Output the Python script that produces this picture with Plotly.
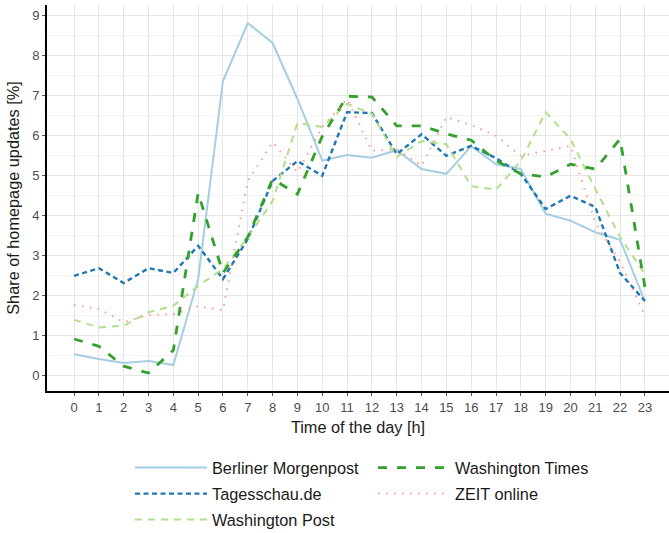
import plotly.graph_objects as go

hours = list(range(24))
hour_labels = [str(h) for h in hours]

berliner = [0.52, 0.40, 0.30, 0.35, 0.25, 2.40, 7.35, 8.80, 8.30, 6.90, 5.36, 5.50, 5.43, 5.62, 5.15, 5.03,
            5.72, 5.27, 5.15, 4.03, 3.86, 3.57, 3.38, 1.84]
tagesschau = [2.48, 2.67, 2.30, 2.67, 2.55, 3.23, 2.40, 3.40, 4.85, 5.35, 4.98, 6.57, 6.55, 5.52, 6.02, 5.48,
              5.73, 5.42, 5.03, 4.15, 4.48, 4.20, 2.55, 1.85]
wash_post = [1.38, 1.19, 1.23, 1.57, 1.73, 2.23, 2.65, 3.45, 4.35, 6.30, 6.20, 6.78, 6.53, 5.45, 5.85, 5.77,
             4.72, 4.63, 5.35, 6.57, 5.90, 4.65, 3.45, 2.52]
wash_times = [0.90, 0.72, 0.22, 0.05, 0.62, 4.55, 2.55, 3.45, 4.90, 4.52, 5.97, 6.97, 6.95, 6.23, 6.23, 6.03,
              5.87, 5.36, 5.03, 4.95, 5.27, 5.15, 5.90, 2.20]
zeit = [1.75, 1.65, 1.32, 1.50, 1.52, 1.72, 1.62, 4.85, 5.82, 5.07, 6.20, 6.90, 5.60, 5.65, 5.23, 6.45,
        6.25, 5.98, 5.48, 5.60, 5.73, 3.82, 2.82, 1.48]

series = [
    ("Berliner Morgenpost", berliner, "#A6CEE3", 2.0, "solid"),
    ("Tagesschau.de", tagesschau, "#1F78B4", 2.4, "5px,3.5px"),
    ("Washington Post", wash_post, "#B2DF8A", 2.0, "7px,6px"),
    ("Washington Times", wash_times, "#33A02C", 2.8, "9px,10px"),
    ("ZEIT online", zeit, "#FB9A99", 2.0, "1.5px,6.5px"),
]

# layout geometry (pixels)
W, H = 669, 533
L, R, T, B = 47, 0, 5, 142
pw, ph = W - L - R, H - T - B

def px_x(x):
    return (x - L) / pw

def px_y(y):
    return (H - B - y) / ph

# legend entry positions (symbol left x, centre y) in pixels
legend_pos = [(136, 468), (136, 494), (136, 520), (379, 468), (379, 494)]

FONT = "Liberation Sans, Arial, sans-serif"

fig = go.Figure()
layout_legends = {}
for i, (name, vals, color, width, dash) in enumerate(series):
    lname = "legend" if i == 0 else f"legend{i+1}"
    fig.add_trace(go.Scatter(
        x=hours, y=vals, mode="lines", name=name,
        line=dict(color=color, width=width, dash=dash),
        legend=lname,
    ))
    lx, ly = legend_pos[i]
    layout_legends[lname] = dict(
        x=px_x(lx - 6), y=px_y(ly), xanchor="left", yanchor="middle",
        orientation="v", itemwidth=72, bgcolor="rgba(0,0,0,0)",
        font=dict(family=FONT, size=16.3, color="#1a1a1a"),
        itemclick=False, itemdoubleclick=False,
    )

fig.update_layout(
    width=W, height=H,
    margin=dict(l=L, r=R, t=T, b=B, autoexpand=False),
    paper_bgcolor="white", plot_bgcolor="white",
    font=dict(family=FONT, color="#1a1a1a"),
    showlegend=True,
    **layout_legends,
)

fig.update_xaxes(
    range=[-1.09, 23.97],
    tickmode="array", tickvals=hours, ticktext=hour_labels,
    showgrid=True, gridcolor="#E6E6E6", gridwidth=1,
    zeroline=False,
    showline=True, linecolor="black", linewidth=2,
    ticks="outside", ticklen=3, tickcolor="#555555",
    tickfont=dict(size=13, color="#4D4D4D"),
    title=dict(text="Time of the day [h]", font=dict(size=16.3, color="#1a1a1a"), standoff=8),
)
fig.update_yaxes(
    range=[-0.4, 9.25],
    tickmode="array", tickvals=list(range(10)),
    showgrid=True, gridcolor="#E6E6E6", gridwidth=1,
    minor=dict(tickvals=[i + 0.5 for i in range(-1, 10)], showgrid=True, gridcolor="#F3F3F3", gridwidth=1),
    zeroline=False,
    showline=True, linecolor="black", linewidth=2,
    ticks="outside", ticklen=3, tickcolor="#555555",
    tickfont=dict(size=13, color="#4D4D4D"),
    title=dict(text="Share of homepage updates [%]", font=dict(size=16.3, color="#1a1a1a"), standoff=8),
)

fig.write_html("out.html")
